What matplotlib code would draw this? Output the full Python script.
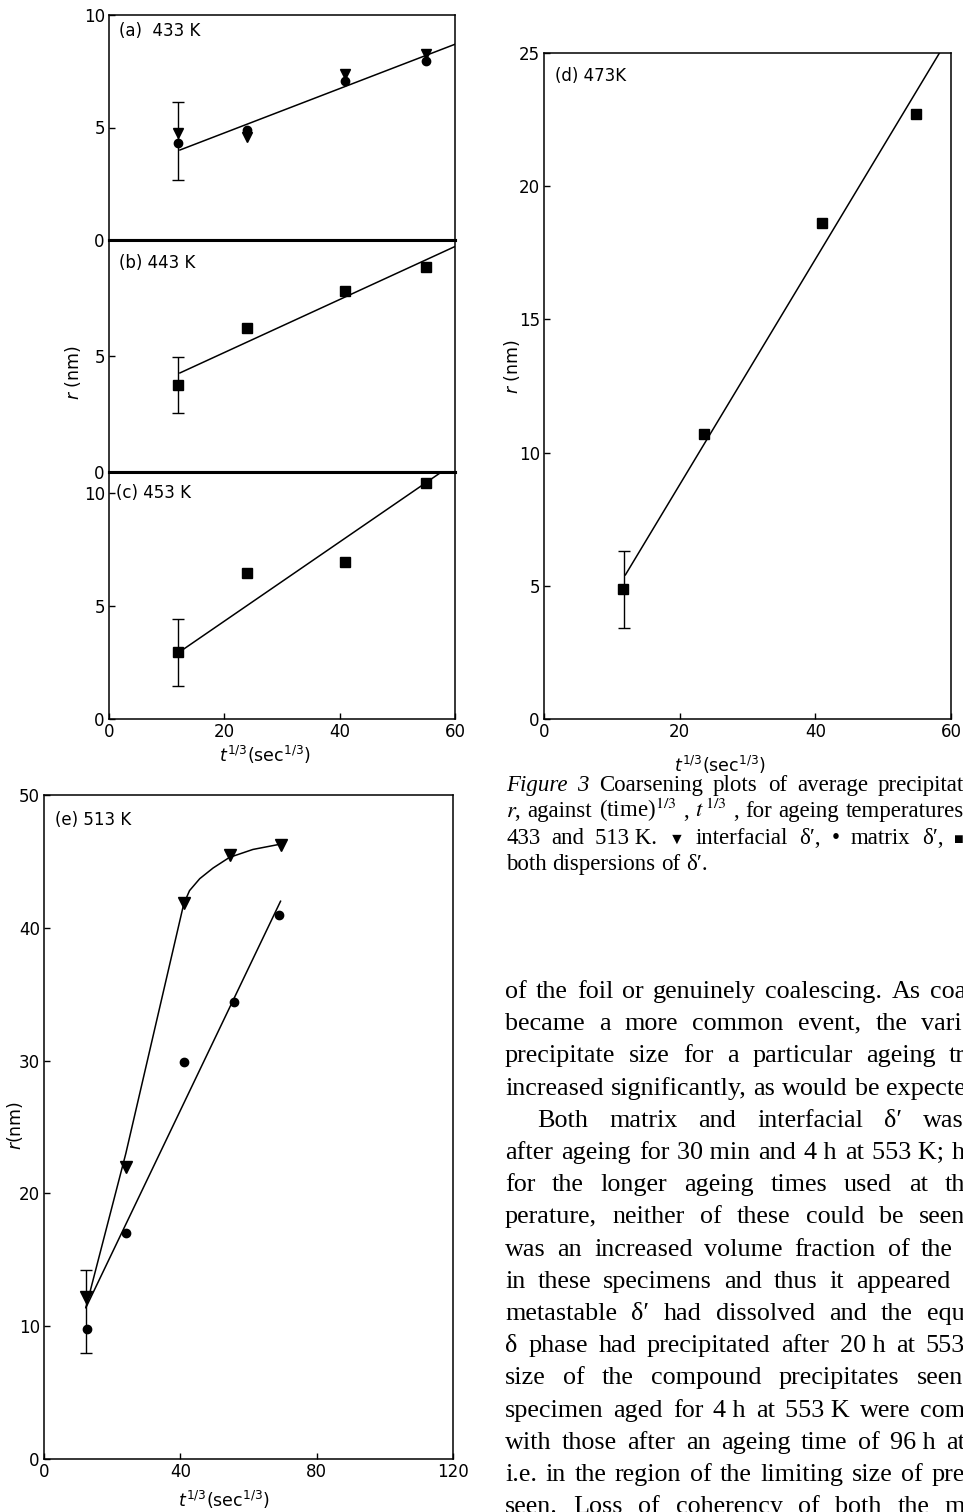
import matplotlib
matplotlib.use('Agg')
import matplotlib.pyplot as plt
from matplotlib import font_manager

# page size in pixels
W, H = 963, 1512

# ---- data ----
t_a = [12, 24, 41, 55]
r_a_interfacial = [4.75, 4.6, 7.4, 8.25]
r_a_matrix = [4.3, 4.9, 7.07, 7.95]
err_a = [12, 2.67, 6.15]          # x, low, high
fit_a_x = [12.3, 60]
fit_a_y = [4.0, 8.7]

t_b = [12, 24, 41, 55]
r_b = [3.75, 6.2, 7.8, 8.85]
err_b = [12, 2.55, 4.96]
fit_b_x = [12.3, 60]
fit_b_y = [4.27, 9.72]

t_c = [12, 24, 41, 55]
r_c = [2.96, 6.46, 6.95, 10.44]
err_c = [12, 1.46, 4.42]
fit_c_x = [12.3, 57.6]
fit_c_y = [2.98, 10.92]

t_d = [11.7, 23.6, 41.0, 54.9]
r_d = [4.89, 10.68, 18.6, 22.7]
err_d = [11.85, 3.42, 6.32]
fit_d_x = [12.0, 58.3]
fit_d_y = [5.41, 25.0]

t_e_interfacial = [12.3, 24, 41, 54.7, 69.4]
r_e_interfacial = [12.2, 22.0, 41.9, 45.5, 46.2]
t_e_matrix = [12.6, 24.1, 41, 55.6, 68.9]
r_e_matrix = [9.8, 17.0, 29.9, 34.4, 41.0]
err_e = [12.3, 8.0, 14.2]
fit_e_int_x = [12.3, 24, 41, 42.7, 45.7, 49.6, 54.4, 61.3, 69.4]
fit_e_int_y = [11.4, 23.0, 41.8, 42.8, 43.7, 44.5, 45.3, 45.9, 46.3]
fit_e_mat_x = [12.3, 69.4]
fit_e_mat_y = [11.4, 42.0]

caption_lines = [
    [("Figure", "it"), ("3", "it"), ("Coarsening", ""), ("plots", ""), ("of", ""),
     ("average", ""), ("precipitat", "")],
    [("$r$,", ""), ("against", ""), ("(time)$^{1/3}$", ""), (",", ""), ("$t^{\\,1/3}$", ""),
     (",", ""), ("for", ""), ("ageing", ""), ("temperatures", "")],
    [("433", ""), ("and", ""), ("513 K.", ""), ("\u25BC", "sym"), ("interfacial", ""),
     ("\u03B4\u2032,", ""), ("\u2022", ""), ("matrix", ""), ("\u03B4\u2032,", ""), ("\u25A0", "sym")],
    [("both", ""), ("dispersions", ""), ("of", ""), ("\u03B4\u2032.", "")],
]

body_lines = [
    "of the foil or genuinely coalescing. As coa",
    "became a more common event, the vari",
    "precipitate size for a particular ageing tr",
    "increased significantly, as would be expecte",
    "Both matrix and interfacial \u03B4\u2032 was",
    "after ageing for 30\u00a0min and 4\u00a0h at 553\u00a0K; h",
    "for the longer ageing times used at th",
    "perature, neither of these could be seen",
    "was an increased volume fraction of the",
    "in these specimens and thus it appeared",
    "metastable \u03B4\u2032 had dissolved and the equ",
    "\u03B4 phase had precipitated after 20\u00a0h at 553",
    "size of the compound precipitates seen",
    "specimen aged for 4\u00a0h at 553\u00a0K were com",
    "with those after an ageing time of 96\u00a0h at",
    "i.e. in the region of the limiting size of pre",
    "seen. Loss of coherency of both the m",
]
body_right = [966, 962, 965, 966, 964, 965, 965, 965, 953, 950,
              965, 965, 963, 965, 965, 965, 965]

# ---- fonts ----
names = {f.name for f in font_manager.fontManager.ttflist}
sans = next(n for n in ['Liberation Sans Narrow', 'DejaVu Sans'] if n in names)
serif = ['Liberation Serif', 'DejaVu Serif']
plt.rcParams['font.family'] = [sans, 'DejaVu Sans']
plt.rcParams['mathtext.fontset'] = 'custom'
plt.rcParams['mathtext.rm'] = sans
plt.rcParams['mathtext.it'] = sans + ':italic'
plt.rcParams['axes.linewidth'] = 1.1

fig = plt.figure(figsize=(W / 100, H / 100), dpi=100)


def add_ax(x0, y0, x1, y1):
    return fig.add_axes([x0 / W, 1 - y1 / H, (x1 - x0) / W, (y1 - y0) / H])


def style(ax, xlim, ylim, xt, yt):
    ax.set_xlim(*xlim)
    ax.set_ylim(*ylim)
    ax.set_xticks(xt)
    ax.set_yticks(yt)
    ax.tick_params(direction='in', length=4, width=1, labelsize=12, pad=3,
                   top=False, right=False)


def errbar(ax, e):
    x, lo, hi = e
    mid = (lo + hi) / 2
    ax.errorbar([x], [mid], yerr=[[mid - lo], [hi - mid]], fmt='none', ecolor='k',
                elinewidth=1, capsize=4, capthick=1)


mk = dict(color='k', linestyle='none')

# (a) 433 K
ax = add_ax(109, 15, 455, 240)
style(ax, (0, 60), (0, 10), [], [0, 5, 10])
ax.spines['bottom'].set_linewidth(2.2)
errbar(ax, err_a)
ax.plot(fit_a_x, fit_a_y, 'k-', lw=1.1)
ax.plot(t_a, r_a_interfacial, marker='v', ms=7.5, **mk)
ax.plot(t_a, r_a_matrix, marker='o', ms=6, **mk)
ax.text(0.03, 0.93, "(a)  433 K", transform=ax.transAxes, fontsize=12, va='center')

# (b) 443 K
ax = add_ax(109, 240, 455, 472)
style(ax, (0, 60), (0, 10), [], [0, 5])
ax.spines['top'].set_linewidth(2.2)
ax.spines['bottom'].set_linewidth(2.2)
errbar(ax, err_b)
ax.plot(fit_b_x, fit_b_y, 'k-', lw=1.1)
ax.plot(t_b, r_b, marker='s', ms=6.5, **mk)
ax.text(0.03, 0.9, "(b) 443 K", transform=ax.transAxes, fontsize=12, va='center')
ax.text(-0.104, 0.427, "$r$ (nm)", transform=ax.transAxes, fontsize=12.5,
        rotation=90, ha='center', va='center')

# (c) 453 K
ax = add_ax(109, 472, 455, 719)
style(ax, (0, 60), (0, 10.93), [0, 20, 40, 60], [0, 5, 10])
ax.spines['top'].set_linewidth(2.2)
errbar(ax, err_c)
ax.plot(fit_c_x, fit_c_y, 'k-', lw=1.1)
ax.plot(t_c, r_c, marker='s', ms=6.5, **mk)
ax.text(0.02, 10 / 10.93, "(c) 453 K", transform=ax.transAxes, fontsize=12, va='center')
ax.text(0.451, -0.146, "$t^{1/3}$(sec$^{1/3}$)", transform=ax.transAxes, fontsize=12.5,
        ha='center', va='center')

# (d) 473 K
ax = add_ax(544, 53, 951, 719)
style(ax, (0, 60), (0, 25), [0, 20, 40, 60], [0, 5, 10, 15, 20, 25])
errbar(ax, err_d)
ax.plot(fit_d_x, fit_d_y, 'k-', lw=1.1)
ax.plot(t_d, r_d, marker='s', ms=6.5, **mk)
ax.text(0.027, 0.965, "(d) 473K", transform=ax.transAxes, fontsize=12, va='center')
ax.text(-0.079, 0.529, "$r$ (nm)", transform=ax.transAxes, fontsize=12.5,
        rotation=90, ha='center', va='center')
ax.text(0.432, -0.069, "$t^{1/3}$(sec$^{1/3}$)", transform=ax.transAxes, fontsize=12.5,
        ha='center', va='center')

# (e) 513 K
ax = add_ax(44, 795, 453, 1459)
style(ax, (0, 120), (0, 50), [0, 40, 80, 120], [0, 10, 20, 30, 40, 50])
errbar(ax, err_e)
ax.plot(fit_e_int_x, fit_e_int_y, 'k-', lw=1.1)
ax.plot(fit_e_mat_x, fit_e_mat_y, 'k-', lw=1.1)
ax.plot(t_e_interfacial, r_e_interfacial, marker='v', ms=8, **mk)
ax.plot(t_e_matrix, r_e_matrix, marker='o', ms=6, **mk)
ax.text(0.027, 0.962, "(e) 513 K", transform=ax.transAxes, fontsize=12, va='center')
ax.text(-0.071, 0.503, "$r$(nm)", transform=ax.transAxes, fontsize=12.5,
        rotation=90, ha='center', va='center')
ax.text(0.44, -0.062, "$t^{1/3}$(sec$^{1/3}$)", transform=ax.transAxes, fontsize=12.5,
        ha='center', va='center')

# ---- caption and body text (justified, cut off at the page edge) ----
renderer = fig.canvas.get_renderer()


def place_line(tokens, x0, base, x1, size, justify=True):
    texts = []
    for s, kind in tokens:
        kw = dict(fontsize=size, va='baseline', ha='left', family=serif,
                  math_fontfamily='stix')
        if kind == 'it':
            kw['fontstyle'] = 'italic'
        if kind == 'sym':
            kw['fontsize'] = size * 0.7
        texts.append(fig.text(x0 / W, 1 - base / H, s, **kw))
    widths = [t.get_window_extent(renderer).width for t in texts]
    if justify and len(texts) > 1:
        gap = (x1 - x0 - sum(widths)) / (len(texts) - 1)
    else:
        gap = size * 100 / 72 * 0.25
    x = x0
    for t, w in zip(texts, widths):
        t.set_x(x / W)
        x += w + gap


for i, toks in enumerate(caption_lines):
    place_line(toks, 506, 791 + i * 26.3, 964, 16.5, justify=(i < 3))

for i, line in enumerate(body_lines):
    x0 = 537 if i == 4 else 505
    toks = [(w, '') for w in line.split(' ')]
    place_line(toks, x0, 998 + i * 32.2, body_right[i], 18.8)

fig.savefig('out.png', dpi=100)
